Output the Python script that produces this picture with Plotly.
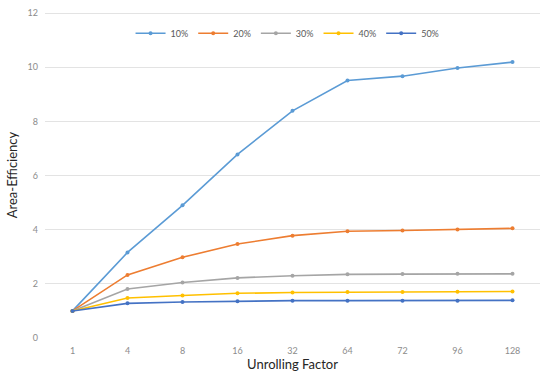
import plotly.graph_objects as go

categories = ["1", "4", "8", "16", "32", "64", "72", "96", "128"]
series_names = ["10%", "20%", "30%", "40%", "50%"]
s10 = [1.0, 3.16, 4.90, 6.78, 8.39, 9.51, 9.67, 9.97, 10.19]
s20 = [1.0, 2.33, 2.98, 3.47, 3.78, 3.94, 3.97, 4.01, 4.05]
s30 = [1.0, 1.81, 2.05, 2.22, 2.30, 2.35, 2.36, 2.37, 2.37]
s40 = [1.0, 1.48, 1.57, 1.65, 1.68, 1.70, 1.70, 1.71, 1.72]
s50 = [1.0, 1.28, 1.33, 1.36, 1.38, 1.38, 1.38, 1.38, 1.39]
y_ticks = [0, 2, 4, 6, 8, 10, 12]

colors = ["#5B9BD5", "#ED7D31", "#A5A5A5", "#FFC000", "#4472C4"]

fig = go.Figure()
for name, vals, c in zip(series_names, [s10, s20, s30, s40, s50], colors):
    fig.add_trace(go.Scatter(
        x=categories, y=vals, name=name, mode="lines+markers",
        line=dict(color=c, width=1.6),
        marker=dict(color=c, size=4, symbol="circle"),
    ))

fig.update_layout(
    width=550, height=378,
    margin=dict(l=45, r=10, t=12, b=40),
    paper_bgcolor="white", plot_bgcolor="white",
    font=dict(family="Lato, Liberation Sans, Arial, sans-serif", color="#595959", size=9),
    legend=dict(orientation="h", x=0.49, xanchor="center", y=0.935, yanchor="middle",
                font=dict(size=9, color="#595959"), bgcolor="rgba(0,0,0,0)",
                tracegroupgap=0),
    showlegend=True,
)
fig.update_xaxes(
    type="category", range=[-0.5, 8.5], showgrid=False, showline=False, zeroline=False,
    automargin=False,
    ticks="", ticklen=0, ticklabelstandoff=6, tickfont=dict(size=9, color="#8C8C8C"),
    title=dict(text="Unrolling Factor", font=dict(size=13, color="#262626"), standoff=4),
)
fig.update_yaxes(
    range=[0, 12.04], tickvals=y_ticks, showgrid=True, gridcolor="#E3E3E3", gridwidth=1,
    zeroline=False, showline=False, ticks="", ticklen=0, ticklabelstandoff=6,
    automargin=False,
    tickfont=dict(size=9, color="#8C8C8C"),
    title=dict(text="Area-Efficiency", font=dict(size=13, color="#262626"), standoff=6),
)
fig.write_html("out.html", config={"displayModeBar": False},
               post_script="document.body.style.margin='0';")
